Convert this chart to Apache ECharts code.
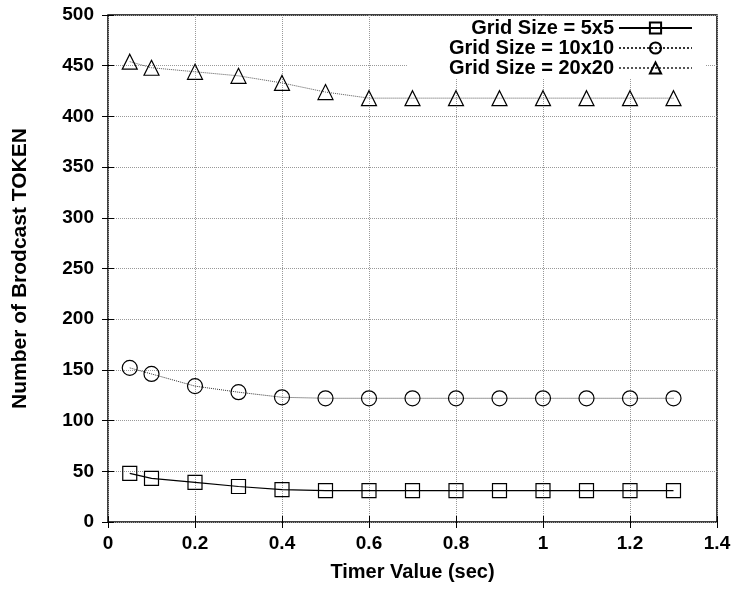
<!DOCTYPE html>
<html>
<head>
<meta charset="utf-8">
<script src="https://cdn.jsdelivr.net/npm/echarts@6/dist/echarts.min.js"></script>
<style>
  html, body { margin: 0; padding: 0; background: #fff; }
  #main { width: 737px; height: 590px; }
</style>
</head>
<body>
<div id="main"></div>
<script>
var timer = [0.05, 0.1, 0.2, 0.3, 0.4, 0.5, 0.6, 0.7, 0.8, 0.9, 1.0, 1.1, 1.2, 1.3];
var grid5 = [48, 43, 39, 35, 32, 31, 31, 31, 31, 31, 31, 31, 31, 31];
var grid10 = [152, 146, 134, 128, 123, 122, 122, 122, 122, 122, 122, 122, 122, 122];
var grid20 = [454, 448, 444, 440, 433, 424, 418, 418, 418, 418, 418, 418, 418, 418];
var names = ['Grid Size = 5x5', 'Grid Size = 10x10', 'Grid Size = 20x20'];

function pairs(ys) {
  var out = [];
  for (var i = 0; i < timer.length; i++) {
    out.push([timer[i], ys[i]]);
  }
  return out;
}

var chart = echarts.init(document.getElementById('main'));
var font = 'Liberation Sans, Arial, sans-serif';
var gridLine = { show: true, lineStyle: { color: '#999', type: 'dotted', width: 1 } };
var tick = { show: true, inside: true, length: 6, lineStyle: { color: '#000' } };

var option = {
  animation: false,
  grid: {
    left: 108, right: 20, top: 15, bottom: 68,
    containLabel: false,
    outerBoundsMode: 'none',
    show: true, borderColor: '#000', borderWidth: 1.5
  },
  legend: {
    orient: 'vertical',
    align: 'right',
    right: 32,
    top: 16,
    padding: [2, 12, 0, 42],
    backgroundColor: '#fff',
    itemWidth: 73,
    itemHeight: 14,
    itemGap: 0,
    data: names,
    textStyle: { fontFamily: font, fontWeight: 'bold', fontSize: 20, color: '#000', lineHeight: 20 }
  },
  xAxis: [{
    type: 'value',
    min: 0, max: 1.4, interval: 0.2,
    name: 'Timer Value (sec)',
    nameLocation: 'middle',
    nameGap: 40,
    nameTextStyle: { fontFamily: font, fontWeight: 'bold', fontSize: 20, color: '#000' },
    axisLine: { show: false },
    axisTick: tick,
    axisLabel: { fontFamily: font, fontWeight: 'bold', fontSize: 19, color: '#000', margin: 12 },
    splitLine: gridLine
  }, {
    type: 'value', position: 'top',
    min: 0, max: 1.4, interval: 0.2,
    axisLine: { show: false },
    axisTick: tick,
    axisLabel: { show: false },
    splitLine: { show: false }
  }],
  yAxis: [{
    type: 'value',
    min: 0, max: 500, interval: 50,
    name: 'Number of Brodcast TOKEN',
    nameLocation: 'middle',
    nameGap: 77,
    nameTextStyle: { fontFamily: font, fontWeight: 'bold', fontSize: 21, color: '#000' },
    axisLine: { show: false },
    axisTick: tick,
    axisLabel: { fontFamily: font, fontWeight: 'bold', fontSize: 19, color: '#000', margin: 14 },
    splitLine: gridLine
  }, {
    type: 'value', position: 'right',
    min: 0, max: 500, interval: 50,
    axisLine: { show: false },
    axisTick: tick,
    axisLabel: { show: false },
    splitLine: { show: false }
  }],
  series: [{
    name: names[0],
    type: 'line',
    data: pairs(grid5),
    symbol: 'rect',
    symbolSize: 14,
    lineStyle: { color: '#000', width: 1.2, type: 'solid' },
    itemStyle: { color: 'rgba(255,255,255,0)', borderColor: '#000', borderWidth: 1.2 }
  }, {
    name: names[1],
    type: 'line',
    data: pairs(grid10),
    symbol: 'circle',
    symbolSize: 15,
    lineStyle: { color: '#333', width: 1, type: 'dotted' },
    itemStyle: { color: 'rgba(255,255,255,0)', borderColor: '#000', borderWidth: 1.2 }
  }, {
    name: names[2],
    type: 'line',
    data: pairs(grid20),
    symbol: 'triangle',
    symbolSize: 15,
    lineStyle: { color: '#555', width: 1, type: 'dotted' },
    itemStyle: { color: 'rgba(255,255,255,0)', borderColor: '#000', borderWidth: 1.2 }
  }]
};

chart.setOption(option);
</script>
</body>
</html>
